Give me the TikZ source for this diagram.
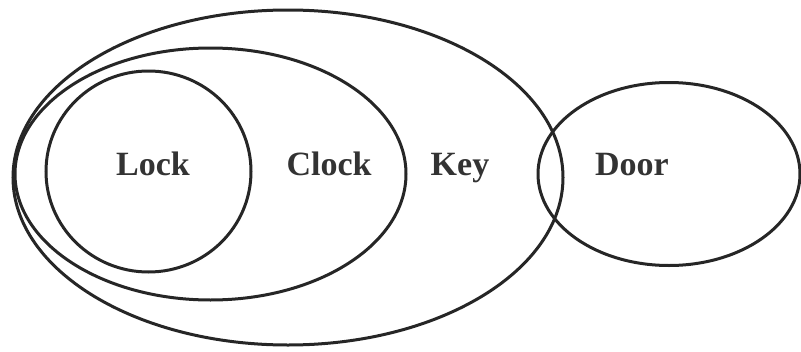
\documentclass[tikz,border=0pt]{standalone}
\usepackage{fontspec}
\setmainfont{Liberation Serif}
\usetikzlibrary{shapes.geometric}
\begin{document}
\begin{tikzpicture}[x=1pt,y=-1pt,
  set/.style={draw=black!85,line width=3pt,ellipse,inner sep=0pt,minimum width=#1},
  lbl/.style={font=\fontsize{34}{40}\selectfont\bfseries,text=black!80,anchor=base}]
\useasboundingbox (0,0) rectangle (801,351);
\node[set=550pt,minimum height=335pt] (key) at (288,177.5) {};
\node[set=391pt,minimum height=252pt] (clock) at (210.5,174) {};
\node[set=205pt,minimum height=201pt] (lock) at (148.5,171.5) {};
\node[set=262pt,minimum height=183pt] (door) at (669,174) {};
\node[lbl] (tlock) at (153,175) {Lock};
\node[lbl] (tclock) at (329,175) {Clock};
\node[lbl] (tkey) at (460,175) {Key};
\node[lbl] (tdoor) at (632,175) {Door};
\end{tikzpicture}
\end{document}
